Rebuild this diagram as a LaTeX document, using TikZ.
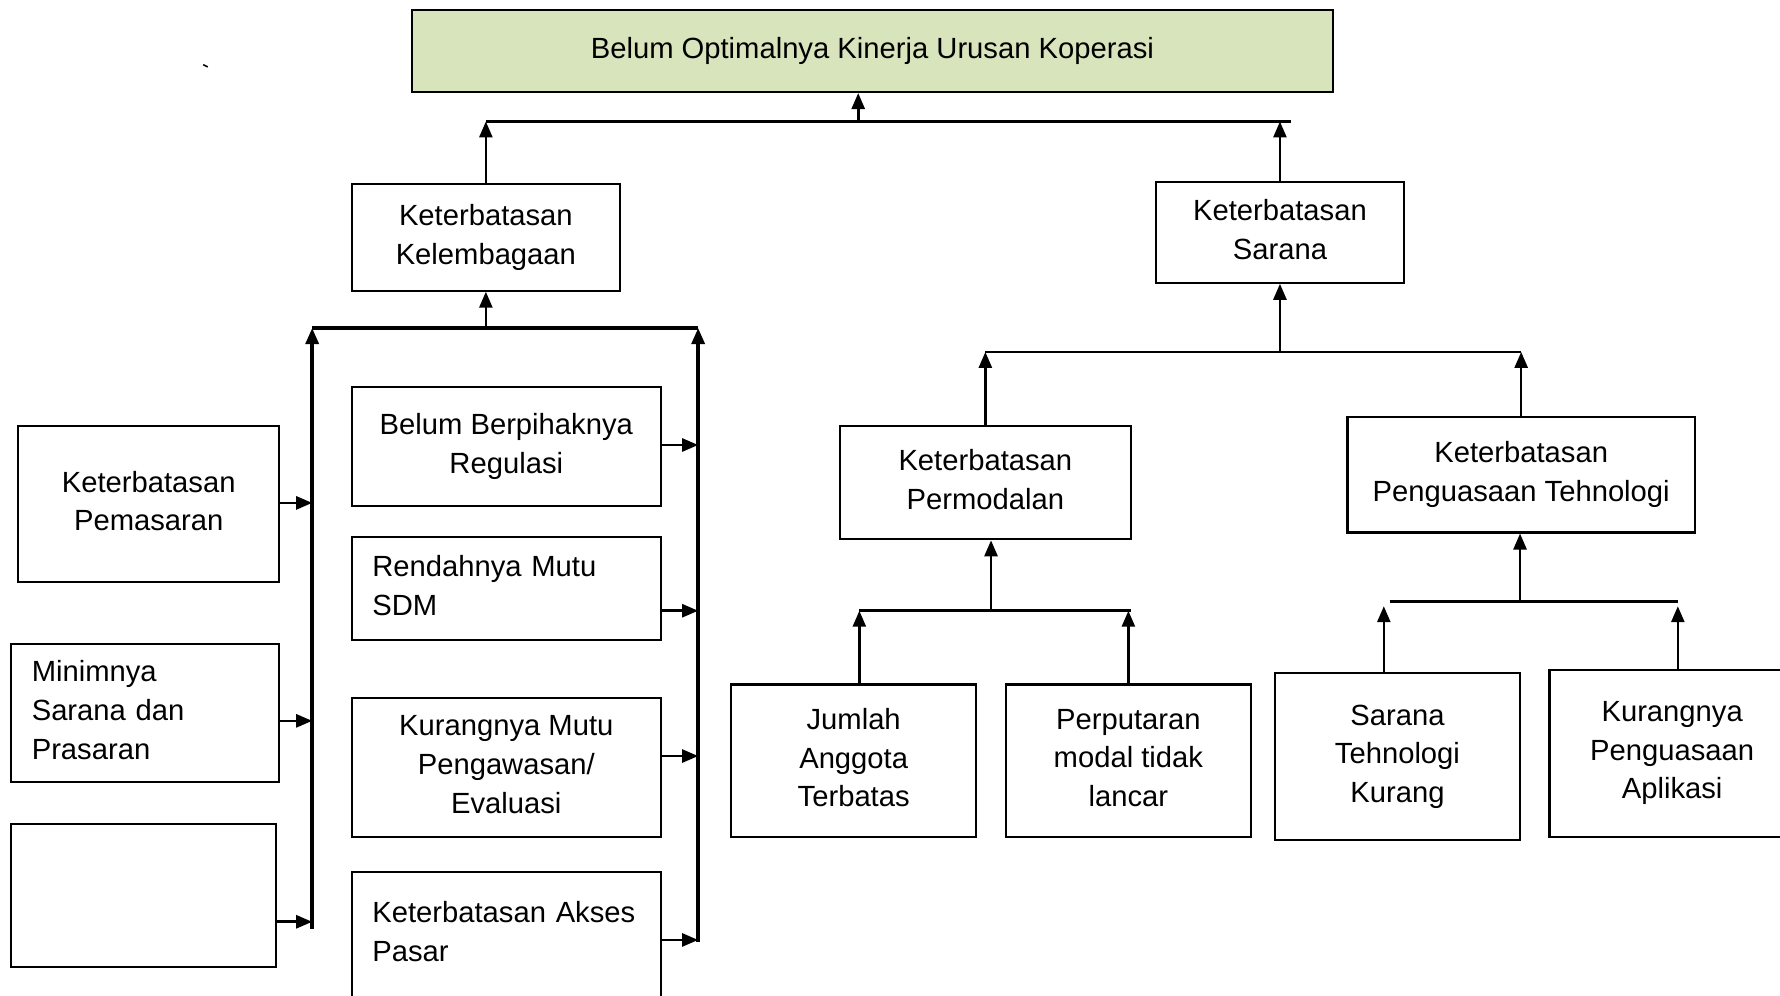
\documentclass[tikz,border=0pt]{standalone}
\usepackage{fontspec}
\setmainfont{Liberation Sans}
\usetikzlibrary{arrows.meta}
\definecolor{hijau}{RGB}{216,228,188}

\begin{document}
\begin{tikzpicture}[x=0.5676pt, y=-0.5676pt,
    font=\fontsize{14.6}{19.3}\selectfont,
    kotak/.style={draw, line width=1.1pt, inner sep=0pt, align=center},
    ukuran/.style 2 args={minimum width=#1*0.5676pt, minimum height=#2*0.5676pt},
    kiri/.style={align=left, text width=#1*0.5676pt},
    panah/.style={-{Triangle[length=8pt,width=6.5pt]}, line width=1.3pt},
    garis/.style={line width=1.3pt}]
\useasboundingbox (0,0) rectangle (1568,876.5);
\draw[line width=0.8pt] (179,57) -- (183,59);
% kotak utama
\node[kotak, fill=hijau, ukuran={811}{72}] (top) at (768.5,45) {Belum Optimalnya Kinerja Urusan Koperasi};
\node[kotak, ukuran={236}{94}] (kel) at (428,209) {Keterbatasan\\Kelembagaan\vphantom{j}};
\node[kotak, ukuran={219}{89}] (sar) at (1127.5,204.5) {Keterbatasan\\Sarana\vphantom{j}};
% cabang kelembagaan
\node[kotak, ukuran={230}{138}] (pem) at (131,444) {Keterbatasan\\Pemasaran\vphantom{j}};
\node[kotak, kiri=200, ukuran={236}{122}] (min) at (128,628) {Minimnya\\Sarana dan\\Prasaran\vphantom{j}};
\node[kotak, ukuran={233}{126}] (kos) at (126.5,789) {};
\node[kotak, ukuran={272}{105}] (reg) at (446,393.5) {Belum Berpihaknya\\Regulasi};
\node[kotak, kiri=236, ukuran={272}{91}] (sdm) at (446,518.5) {Rendahnya Mutu\\SDM\vphantom{j}};
\node[kotak, ukuran={272}{122}] (pgw) at (446,676) {Kurangnya Mutu\\Pengawasan/\\Evaluasi\vphantom{j}};
\node[kotak, kiri=236, ukuran={272}{110}] (aks) at (446,823) {Keterbatasan Akses\\Pasar\vphantom{j}};
% cabang sarana
\node[kotak, ukuran={256}{100}] (mod) at (868,425) {Keterbatasan\\Permodalan\vphantom{j}};
\node[kotak, ukuran={306}{102}] (tek) at (1340,418) {Keterbatasan\\Penguasaan Tehnologi};
\node[kotak, ukuran={216}{134}] (jml) at (752,670) {Jumlah\\Anggota\\Terbatas\vphantom{j}};
\node[kotak, ukuran={216}{134}] (put) at (994,670) {Perputaran\\modal tidak\\lancar\vphantom{j}};
\node[kotak, ukuran={216}{147}] (srt) at (1231,666.5) {Sarana\\Tehnologi\\Kurang};
\node[kotak, ukuran={216}{147}] (apl) at (1473,663.5) {Kurangnya\\Penguasaan\\Aplikasi\vphantom{j}};

% titik sambung
\coordinate (j0) at (756,107);
\coordinate (e0) at (1137,107);
\coordinate (j1) at (428,289);
\coordinate (l1) at (275,289);
\coordinate (r1) at (615,289);
\coordinate (l2) at (275,818);
\coordinate (r2) at (615,830);
\coordinate (j2) at (1129,310);
\coordinate (j3) at (873,538);
\coordinate (a3) at (757,538);
\coordinate (b3) at (996,538);
\coordinate (j4) at (1339,530);
\coordinate (a4) at (1224,530);
\coordinate (b4) at (1478,530);
\coordinate (c4) at (1219,534);
\coordinate (d4) at (1478,534);

% atas
\draw[garis] (kel.north |- j0) -- (e0);
\draw[panah] (j0) -- (j0 |- top.south);
\draw[panah] (kel.north) -- (kel.north |- j0);
\draw[panah] (sar.north) -- (sar.north |- j0);

% kelembagaan
\draw[garis, line width=1.7pt] (l1) -- (r1);
\draw[panah] (j1) -- (kel.south);
\draw[panah, line width=1.7pt] (l2) -- (l1);
\draw[panah, line width=1.7pt] (r2) -- (r1);
\coordinate (p1) at (275,443);
\coordinate (p2) at (275,635);
\coordinate (p3) at (275,812);
\draw[panah] (pem.east |- p1) -- (p1);
\draw[panah] (min.east |- p2) -- (p2);
\draw[panah] (kos.east |- p3) -- (p3);
\coordinate (q1) at (615,392);
\coordinate (q2) at (615,538);
\coordinate (q3) at (615,666);
\coordinate (q4) at (615,828);
\draw[panah] (reg.east |- q1) -- (q1);
\draw[panah] (sdm.east |- q2) -- (q2);
\draw[panah] (pgw.east |- q3) -- (q3);
\draw[panah] (aks.east |- q4) -- (q4);

% sarana
\draw[garis] (mod.north |- j2) -- (tek.north |- j2);
\draw[panah] (sar.south |- j2) -- (sar.south);
\draw[panah] (mod.north) -- (mod.north |- j2);
\draw[panah] (tek.north) -- (tek.north |- j2);

\draw[garis] (a3) -- (b3);
\draw[panah] (j3) -- (j3 |- mod.south);
\draw[panah] (jml.north -| a3) -- (a3);
\draw[panah] (put.north) -- (put.north |- a3);

\draw[garis] (a4) -- (b4);
\draw[panah] (j4) -- (j4 |- tek.south);
\draw[panah] (srt.north -| c4) -- (c4);
\draw[panah] (apl.north -| d4) -- (d4);
\end{tikzpicture}
\end{document}
